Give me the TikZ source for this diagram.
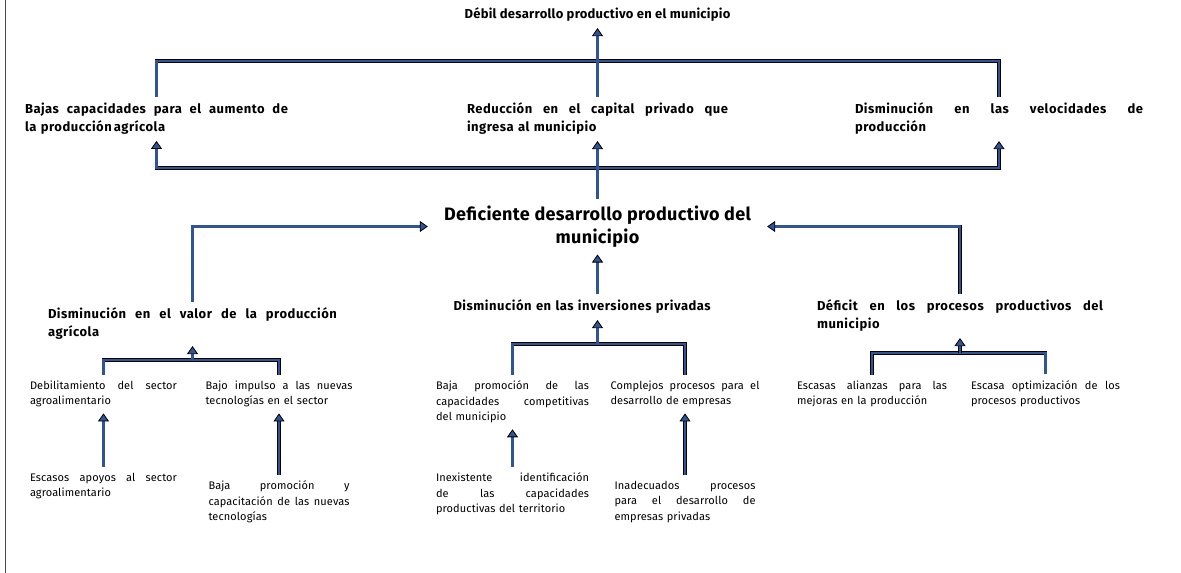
\documentclass[tikz,border=0pt]{standalone}
\usepackage{fontspec}
\setmainfont{Fira Sans}
\newfontfamily\fuentefila{Fira Sans}[LetterSpace=4]
\newfontfamily\fuentecentral{Fira Sans}[LetterSpace=2]
\newfontfamily\fuentecausa{Fira Sans}[LetterSpace=1]
\usetikzlibrary{arrows.meta}
\definecolor{azul}{RGB}{47,85,151}
\newcommand{\linea}[1]{\noindent\hbox to \hsize{\spaceskip=0pt\xspaceskip=0pt #1}}

\begin{document}
\begin{tikzpicture}[x=1pt, y=-1pt,
    efecto/.style={font=\fuentecentral\fontsize{13}{18}\selectfont\bfseries, inner xsep=0pt, inner ysep=6pt},
    fila/.style={font=\fuentefila\fontsize{13}{18}\selectfont\bfseries, align=left, inner xsep=0pt, inner ysep=6pt},
    central/.style={font=\fuentecentral\fontsize{18}{23}\selectfont\bfseries, align=center, inner xsep=16pt, inner ysep=7pt},
    causa/.style={font=\fuentecausa\fontsize{11}{15.5}\selectfont, align=left, inner xsep=2pt, inner ysep=6pt},
    barra/.style={draw=black, line width=0.8pt, double=azul, double distance=2.2pt, line join=miter},
    flecha/.style={barra, -{Triangle[length=8pt, width=11pt, fill=azul]}},
]
\useasboundingbox (0,0) rectangle (1181,573);
\draw[black!70, line width=0.8pt] (5.5,0) -- (5.5,573);

\node (efecto) [efecto] at (597.5,15) {Débil desarrollo productivo en el municipio};

\node (bajas) [fila, text width=263pt] at (156.5,119) {\linea{Bajas capacidades para el aumento de}\\ la producción\,agrícola};
\node (reduccion) [fila, text width=261pt] at (597.5,119) {\linea{Reducción en el capital privado que}\\ ingresa al municipio};
\node (velocidades) [fila, text width=288pt] at (999,119) {\linea{Disminución en las velocidades de}\\ producción};

\node (problema) [central] at (597.5,226.5) {Deficiente desarrollo productivo del\\ municipio};

\node (valor) [fila, text width=289pt] at (192.5,324) {\linea{Disminución en el valor de la producción}\\ agrícola};
\node (inversiones) [fila, text width=288pt] at (597.5,307) {Disminución en las inversiones privadas};
\node (deficit) [fila, text width=286pt] at (960,316) {\linea{Déficit en los procesos productivos del}\\ municipio};

\node (debilitamiento) [causa, text width=147pt] at (103.5,394) {\linea{Debilitamiento del sector}\\ agroalimentario};
\node (impulso) [causa, text width=147pt] at (279,394) {\linea{Bajo impulso a las nuevas}\\ tecnologías en el sector};
\node (promocion) [causa, text width=153pt] at (512.5,402) {\linea{Baja promoción de las}\\ \linea{capacidades competitivas}\\ del municipio};
\node (complejos) [causa, text width=149pt] at (685,394) {\linea{Complejos procesos para el}\\ desarrollo de empresas};
\node (alianzas) [causa, text width=150pt] at (872,394) {\linea{Escasas alianzas para las}\\ mejoras en la producción};
\node (optimizacion) [causa, text width=149pt] at (1045.5,394) {\linea{Escasa optimización de los}\\ procesos productivos};

\node (apoyos) [causa, text width=147pt] at (103.5,486) {\linea{Escasos apoyos al sector}\\ agroalimentario};
\node (capacitacion) [causa, text width=141pt] at (279,502) {\linea{Baja promoción y}\\ \linea{capacitación de las nuevas}\\ tecnologías};
\node (inexistente) [causa, text width=153pt] at (512.5,494) {\linea{Inexistente identificación}\\ \linea{de las capacidades}\\ productivas del territorio};
\node (inadecuados) [causa, text width=141pt] at (685,502) {\linea{Inadecuados procesos}\\ \linea{para el desarrollo de}\\ empresas privadas};

\coordinate (jsup) at (597.5,61);
\coordinate (jinf) at (597.5,168);
\coordinate (jvalor) at (192.5,360);
\coordinate (jinv) at (597.5,344);
\coordinate (jdef) at (960,353);

\draw[barra] (bajas.north) |- (jsup) -| (velocidades.north);
\draw[flecha] (reduccion) -- (efecto);
\draw[flecha] (jinf) -| (bajas.south);
\draw[flecha] (jinf) -| (velocidades.south);
\draw[flecha] (problema) -- (reduccion);

\draw[flecha] (valor.north) |- (problema.west);
\draw[flecha] (deficit.north) |- (problema.east);
\draw[flecha] (inversiones) -- (problema);

\draw[barra] (debilitamiento.north) |- (jvalor) -| (impulso.north);
\draw[flecha] (jvalor) -- (valor.south);
\draw[barra] (promocion.north) |- (jinv) -| (complejos.north);
\draw[flecha] (jinv) -- (inversiones.south);
\draw[barra] (alianzas.north) |- (jdef) -| (optimizacion.north);
\draw[flecha] (jdef) -- (deficit.south);

\draw[flecha] (apoyos) -- (debilitamiento);
\draw[flecha] (capacitacion) -- (impulso);
\draw[flecha] (inexistente) -- (promocion);
\draw[flecha] (inadecuados) -- (complejos);

\end{tikzpicture}
\end{document}
